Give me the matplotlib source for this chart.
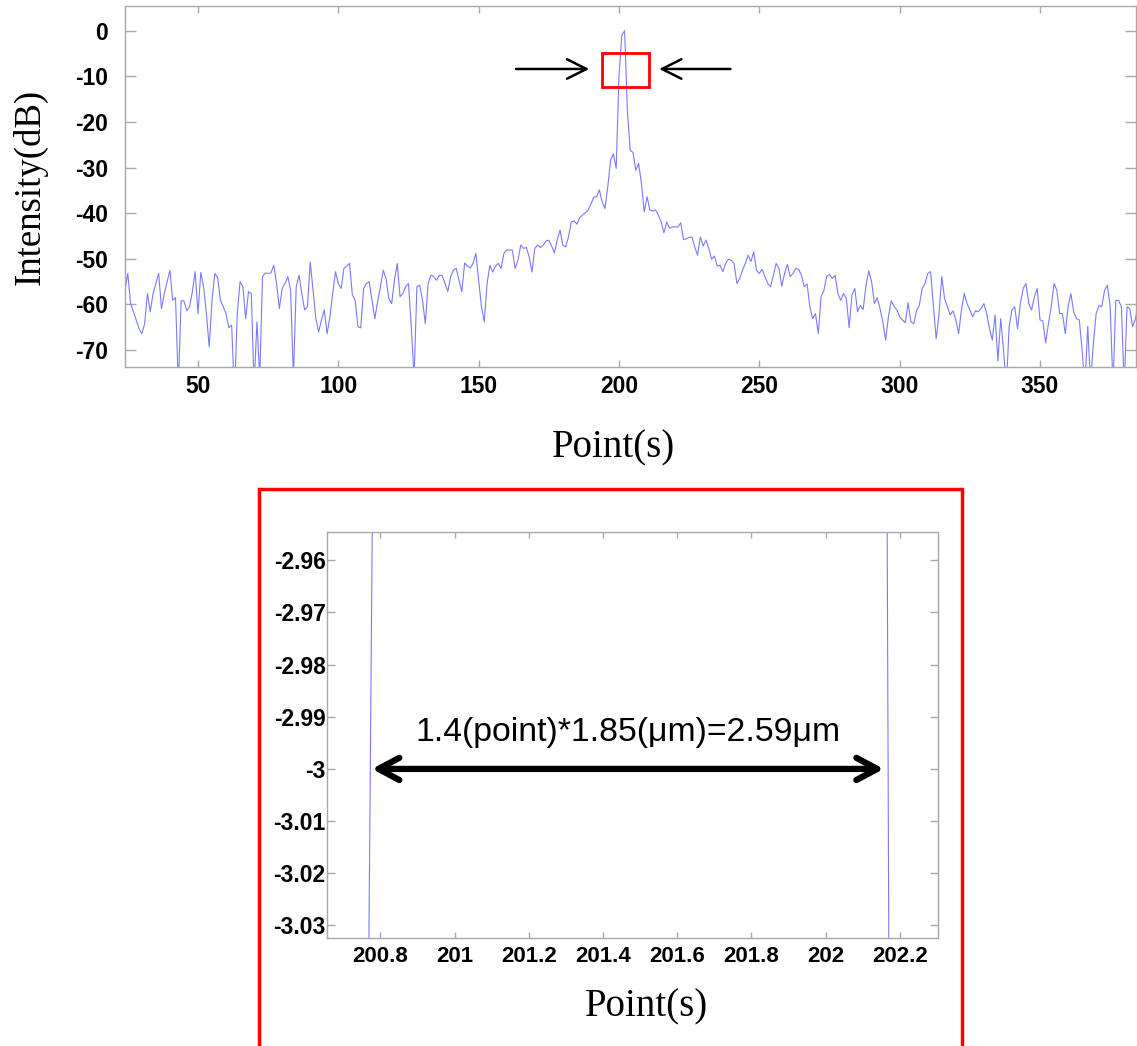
import matplotlib
matplotlib.use("Agg")
import matplotlib.pyplot as plt
from matplotlib import patches

plt.rcParams['axes.unicode_minus'] = False

# ---- data ----
point_index = list(range(24, 386))
intensity_db = [
    -56.9, -53.2, -59.8, -61.6, -63.4, -65.3, -66.4, -64.2, -57.6, -61.6,   # 24-33
    -57.6, -55.4, -53.2, -60.9, -57.6, -55.0, -52.5, -59.1, -58.5, -78.0,   # 34-43
    -59.2, -59.2, -61.4, -60.5, -57.2, -52.8, -62.0, -53.0, -56.1, -62.0,   # 44-53
    -69.3, -59.1, -53.2, -54.1, -59.1, -60.5, -62.0, -65.1, -64.5, -80.0,   # 54-63
    -62.0, -55.0, -56.1, -63.1, -57.2, -57.6, -78.0, -63.8, -76.0, -53.9,   # 64-73
    -53.1, -53.2, -53.1, -51.4, -55.4, -60.9, -56.5, -55.4, -53.9, -56.9,   # 74-83
    -76.0, -56.1, -53.6, -57.6, -61.2, -60.5, -50.7, -56.9, -63.1, -66.0,   # 84-93
    -63.4, -61.2, -66.4, -62.7, -57.6, -52.8, -55.4, -56.5, -52.1, -51.6,   # 94-103
    -51.0, -57.9, -59.1, -64.9, -65.1, -56.5, -55.4, -55.0, -59.1, -63.1,   # 104-113
    -59.4, -56.1, -52.5, -54.3, -58.7, -59.8, -54.7, -51.0, -58.3, -57.6,   # 114-123
    -56.1, -55.4, -64.9, -76.0, -56.1, -55.8, -59.1, -64.2, -55.4, -53.6,   # 124-133
    -53.9, -54.7, -53.6, -53.6, -55.4, -57.2, -53.9, -52.5, -52.1, -54.7,   # 134-143
    -57.2, -50.9, -51.6, -52.0, -51.0, -48.8, -54.7, -60.5, -63.8, -55.4,   # 144-153
    -51.4, -52.9, -51.6, -51.0, -52.1, -48.8, -48.0, -48.1, -48.1, -52.1,   # 154-163
    -50.3, -47.0, -47.7, -47.5, -49.6, -52.9, -47.7, -47.0, -47.5, -47.0,   # 164-173
    -46.1, -45.9, -47.2, -48.7, -45.8, -43.7, -47.0, -47.4, -45.2, -41.9,   # 174-183
    -41.7, -42.4, -41.0, -40.4, -39.9, -39.3, -38.0, -36.5, -36.4, -34.9,   # 184-193
    -37.5, -39.0, -34.2, -28.4, -27.0, -30.2, -9.8, -1.0, 0.0, -17.8,       # 194-203
    -26.2, -26.7, -30.6, -29.1, -33.5, -39.7, -36.4, -39.3, -39.5, -39.3,   # 204-213
    -40.4, -41.9, -44.3, -41.9, -43.3, -43.0, -43.0, -43.0, -42.1, -45.8,   # 214-223
    -45.6, -45.3, -45.2, -47.4, -49.2, -45.2, -47.2, -45.9, -47.7, -50.1,   # 224-233
    -49.4, -51.6, -51.4, -52.8, -51.0, -50.1, -50.3, -51.0, -55.4, -54.3,   # 234-243
    -52.5, -51.0, -49.2, -50.6, -48.5, -52.5, -53.2, -52.3, -53.9, -55.4,   # 244-253
    -56.1, -53.6, -51.0, -52.1, -56.0, -53.2, -51.2, -53.9, -53.2, -52.1,   # 254-263
    -52.3, -53.6, -56.1, -55.5, -60.5, -63.1, -62.0, -66.4, -58.3, -56.9,   # 264-273
    -53.8, -53.4, -54.3, -53.6, -57.6, -59.1, -57.6, -58.7, -65.1, -57.9,   # 274-283
    -56.5, -61.6, -60.2, -61.1, -55.8, -52.6, -55.0, -59.8, -58.5, -60.9,   # 284-293
    -63.8, -67.8, -62.7, -59.2, -60.4, -61.2, -62.7, -63.4, -64.0, -59.6,   # 294-303
    -63.8, -64.2, -61.4, -60.2, -56.5, -55.5, -53.2, -52.8, -60.2, -67.5,   # 304-313
    -62.3, -53.9, -58.7, -60.5, -62.3, -61.4, -63.4, -66.4, -61.2, -57.6,   # 314-323
    -59.8, -61.2, -62.7, -61.4, -61.6, -60.9, -59.8, -62.0, -65.3, -67.8,   # 324-333
    -62.3, -72.4, -63.1, -70.0, -78.0, -64.9, -61.2, -60.5, -65.3, -59.8,   # 334-343
    -56.5, -55.4, -59.8, -61.2, -58.3, -56.5, -63.4, -63.6, -68.4, -64.2,   # 344-353
    -60.5, -55.4, -56.9, -62.0, -62.0, -66.4, -60.5, -57.6, -61.6, -63.1,   # 354-363
    -63.4, -70.0, -78.0, -64.8, -77.0, -68.6, -62.0, -60.2, -60.5, -56.9,   # 364-373
    -55.8, -60.5, -78.0, -59.1, -59.1, -60.5, -78.0, -60.5, -60.9, -64.9,   # 374-383
    -63.1, -60.0,                                                           # 384-385
]

main_xticks = [50, 100, 150, 200, 250, 300, 350]
main_yticks = [0, -10, -20, -30, -40, -50, -60, -70]
zoom_xticks = [200.8, 201.0, 201.2, 201.4, 201.6, 201.8, 202.0, 202.2]
zoom_yticks = [-2.96, -2.97, -2.98, -2.99, -3.0, -3.01, -3.02, -3.03]
annotation_text = "1.4(point)*1.85(μm)=2.59μm"

# ---- layout ----
W, H = 1137, 1046
fig = plt.figure(figsize=(W / 100, H / 100), dpi=100)
fig.patch.set_facecolor('white')


def box(l, t, r, b):
    return [l / W, 1 - b / H, (r - l) / W, (b - t) / H]


line_color = '#7a7aff'
spine_color = '#a8a8a8'
tick_font = dict(family='Liberation Sans', fontweight='bold')


def fmt(v):
    return ('%g' % v)


def style_axes(ax, xticks, yticks, xlab_size, ylab_size, ylen, xlen, ypad, xpad):
    for s in ax.spines.values():
        s.set_color(spine_color)
        s.set_linewidth(1.0)
    ax.set_xticks(xticks, [fmt(v) for v in xticks], fontsize=xlab_size, **tick_font)
    ax.set_yticks(yticks, [fmt(v) for v in yticks], fontsize=ylab_size, **tick_font)
    ax.tick_params(axis='y', direction='in', length=ylen, color=spine_color,
                   left=True, right=True, pad=ypad, width=1.0)
    ax.tick_params(axis='x', direction='in', length=xlen, color=spine_color,
                   bottom=True, top=True, pad=xpad, width=1.0)


# main axes
ax = fig.add_axes(box(125, 6, 1136, 367))
ax.plot(point_index, intensity_db, color=line_color, lw=0.8)
ax.set_xlim(24, 384.2)
ax.set_ylim(-73.7, 5.4)
style_axes(ax, main_xticks, main_yticks, 16.5, 16.5, 8, 5, 12, 6)

ax.add_patch(patches.Rectangle((194.0, -12.3), 16.6, 7.3, fill=False,
                               ec='red', lw=2.0, zorder=5))
arrow_kw = dict(arrowstyle='->,head_length=0.7,head_width=0.35', lw=1.8,
                color='black', shrinkA=0, shrinkB=0, mutation_scale=20)
ax.annotate('', xy=(189.4, -8.4), xytext=(163.3, -8.4), arrowprops=arrow_kw)
ax.annotate('', xy=(214.3, -8.4), xytext=(239.7, -8.4), arrowprops=arrow_kw)

fig.text(30 / W, 1 - 187 / H, 'Intensity(dB)', rotation=90, ha='center',
         va='center', family='Liberation Serif', fontsize=26.5)
fig.text(613 / W, 1 - 448 / H, 'Point(s)', ha='center', va='center',
         family='Liberation Serif', fontsize=28)

# zoomed axes
ax2 = fig.add_axes(box(327, 532, 938, 938))
ax2.plot(point_index, intensity_db, color=line_color, lw=0.8)
ax2.set_xlim(200.656, 202.303)
ax2.set_ylim(-3.0324, -2.9546)
style_axes(ax2, zoom_xticks, zoom_yticks, 16, 16.5, 6, 4, 1, 6)

ax2.annotate('', xy=(200.777, -3.0), xytext=(202.157, -3.0),
             arrowprops=dict(arrowstyle='<->,head_length=0.6,head_width=0.32',
                             lw=4.5, color='black', shrinkA=0, shrinkB=0,
                             mutation_scale=25))
fig.text(628 / W, 1 - 733 / H, annotation_text, ha='center', va='center',
         family='Liberation Sans', fontsize=24.3)
fig.text(647 / W, 1 - 1007 / H, 'Point(s)', ha='center', va='center',
         family='Liberation Serif', fontsize=28)

# red frame around the zoomed view
fig.add_artist(patches.Rectangle((259 / W, -0.01), (962 - 259) / W,
                                 1 - 489 / H + 0.01, fill=False, ec='red',
                                 lw=2.5, transform=fig.transFigure))

fig.savefig('out.png', dpi=100, facecolor='white')
